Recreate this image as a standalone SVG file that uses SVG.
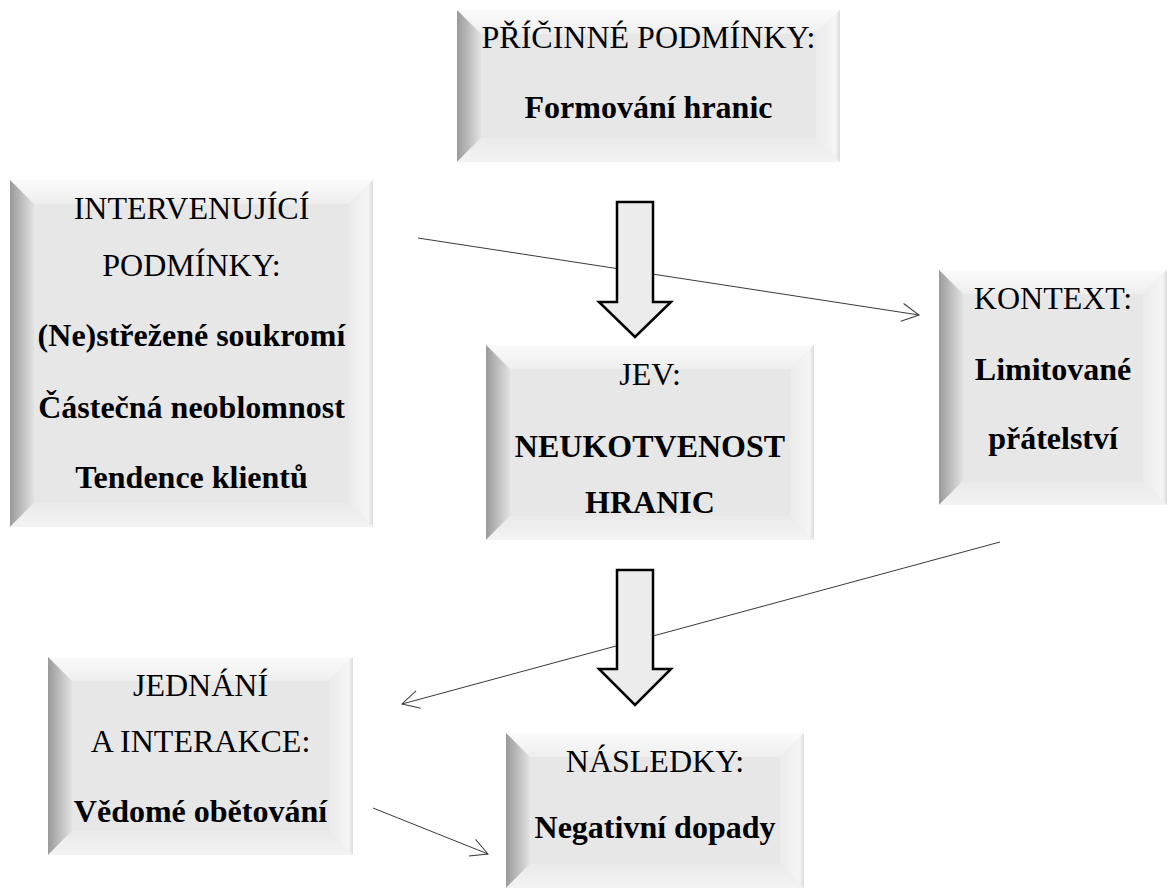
<svg xmlns="http://www.w3.org/2000/svg" width="1169" height="890" viewBox="0 0 1169 890">
<style>
.face{fill:#e7e7e7}
.bt{fill:url(#gTop)}
.bl{fill:url(#gLeft)}
.br{fill:url(#gRight)}
.bb{fill:url(#gBottom)}
text{font-family:"Liberation Serif","Times New Roman",serif;font-size:32px;fill:#000;text-anchor:middle}
.b{font-weight:bold}
.conn{fill:none;stroke:#3a3a3a;stroke-width:1;marker-end:url(#vh)}
.blk{fill:#ececec;stroke:#000;stroke-width:2.5;stroke-linejoin:miter}
</style>
<defs>
<linearGradient id="gLeft" x1="0" y1="0" x2="1" y2="0"><stop offset="0" stop-color="#9a9a9a"/><stop offset="1" stop-color="#e2e2e2"/></linearGradient>
<linearGradient id="gTop" x1="0" y1="0" x2="0" y2="1"><stop offset="0" stop-color="#fbfbfb"/><stop offset="1" stop-color="#eeeeee"/></linearGradient>
<linearGradient id="gRight" x1="0" y1="0" x2="1" y2="0"><stop offset="0" stop-color="#ebebeb"/><stop offset="0.8" stop-color="#f5f5f5"/><stop offset="1" stop-color="#dcdcdc"/></linearGradient>
<linearGradient id="gBottom" x1="0" y1="0" x2="0" y2="1"><stop offset="0" stop-color="#eaeaea"/><stop offset="1" stop-color="#f3f3f3"/></linearGradient>
<marker id="vh" markerUnits="userSpaceOnUse" markerWidth="24" markerHeight="24" viewBox="-20 -12 24 24" refX="0" refY="0" orient="auto" overflow="visible">
<path d="M-17,-9 L0,0 L-17,9" fill="none" stroke="#3a3a3a" stroke-width="1"/>
</marker>
</defs>

<g id="pricinne">
<rect class="face" x="457" y="10" width="383" height="152"/>
<polygon class="bt" points="457,10 840,10 816,34 481,34"/>
<polygon class="bl" points="457,10 481,34 481,138 457,162"/>
<polygon class="br" points="840,10 840,162 816,138 816,34"/>
<polygon class="bb" points="457,162 481,138 816,138 840,162"/>
<text x="648.5" y="48">PŘÍČINNÉ PODMÍNKY:</text>
<text class="b" x="648.5" y="118">Formování hranic</text>
</g>

<g id="intervenujici">
<rect class="face" x="10" y="180" width="363" height="347"/>
<polygon class="bt" points="10,180 373,180 349,204 34,204"/>
<polygon class="bl" points="10,180 34,204 34,503 10,527"/>
<polygon class="br" points="373,180 373,527 349,503 349,204"/>
<polygon class="bb" points="10,527 34,503 349,503 373,527"/>
<text x="191.5" y="219">INTERVENUJÍCÍ</text>
<text x="191.5" y="276">PODMÍNKY:</text>
<text class="b" x="191.5" y="346">(Ne)střežené soukromí</text>
<text class="b" x="191.5" y="418">Částečná neoblomnost</text>
<text class="b" x="191.5" y="488">Tendence klientů</text>
</g>

<g id="kontext">
<rect class="face" x="939" y="270" width="228" height="235"/>
<polygon class="bt" points="939,270 1167,270 1143,294 963,294"/>
<polygon class="bl" points="939,270 963,294 963,481 939,505"/>
<polygon class="br" points="1167,270 1167,505 1143,481 1143,294"/>
<polygon class="bb" points="939,505 963,481 1143,481 1167,505"/>
<text x="1053" y="309">KONTEXT:</text>
<text class="b" x="1053" y="380">Limitované</text>
<text class="b" x="1053" y="449">přátelství</text>
</g>

<g id="jev">
<rect class="face" x="486" y="345" width="328" height="195"/>
<polygon class="bt" points="486,345 814,345 790,369 510,369"/>
<polygon class="bl" points="486,345 510,369 510,516 486,540"/>
<polygon class="br" points="814,345 814,540 790,516 790,369"/>
<polygon class="bb" points="486,540 510,516 790,516 814,540"/>
<text x="650" y="385">JEV:</text>
<text class="b" x="650" y="457">NEUKOTVENOST</text>
<text class="b" x="650" y="513">HRANIC</text>
</g>

<g id="jednani">
<rect class="face" x="48" y="657" width="305" height="198"/>
<polygon class="bt" points="48,657 353,657 329,681 72,681"/>
<polygon class="bl" points="48,657 72,681 72,831 48,855"/>
<polygon class="br" points="353,657 353,855 329,831 329,681"/>
<polygon class="bb" points="48,855 72,831 329,831 353,855"/>
<text x="200.5" y="696">JEDNÁNÍ</text>
<text x="200.5" y="752">A INTERAKCE:</text>
<text class="b" x="200.5" y="822">Vědomé obětování</text>
</g>

<g id="nasledky">
<rect class="face" x="506" y="733" width="298" height="155"/>
<polygon class="bt" points="506,733 804,733 780,757 530,757"/>
<polygon class="bl" points="506,733 530,757 530,864 506,888"/>
<polygon class="br" points="804,733 804,888 780,864 780,757"/>
<polygon class="bb" points="506,888 530,864 780,864 804,888"/>
<text x="655" y="772">NÁSLEDKY:</text>
<text class="b" x="655" y="838">Negativní dopady</text>
</g>

<g id="connectors">
<line class="conn" x1="418" y1="238" x2="919" y2="315"/>
<line class="conn" x1="1000" y1="542" x2="402" y2="704"/>
<line class="conn" x1="373" y1="808" x2="488" y2="854"/>
<polygon class="blk" points="617,202 653,202 653,302 671,302 635,337 599,302 617,302"/>
<polygon class="blk" points="617,570 653,570 653,669 671,669 635,705 599,669 617,669"/>
</g>
</svg>
